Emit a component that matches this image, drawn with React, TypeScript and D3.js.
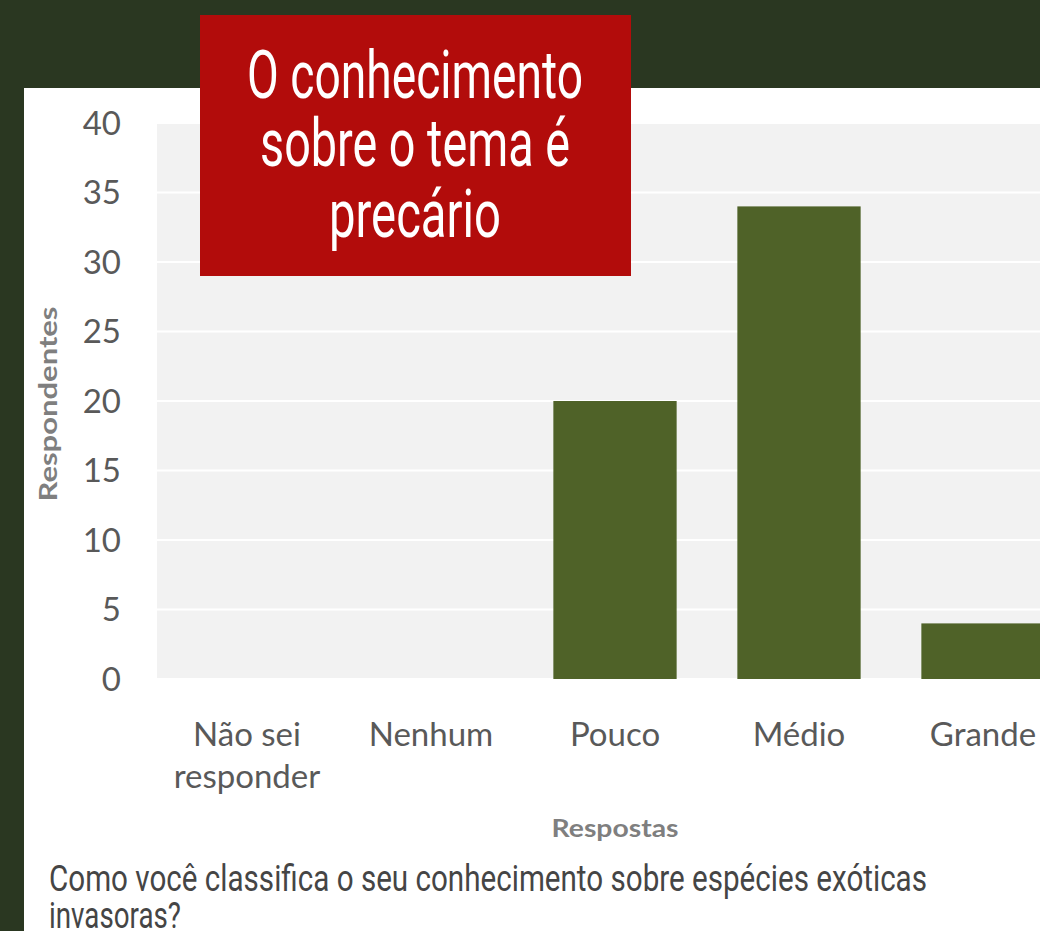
import React from "react";
import * as d3 from "d3";

// data
const categories = ["Não sei responder", "Nenhum", "Pouco", "Médio", "Grande"];
const categoryLines = [["Não sei", "responder"], ["Nenhum"], ["Pouco"], ["Médio"], ["Grande"]];
const respondents = [0, 0, 20, 34, 4];
const yTicks = [0, 5, 10, 15, 20, 25, 30, 35, 40];
const calloutLines = ["O conhecimento", "sobre o tema é", "precário"];
const captionLines = ["Como você classifica o seu conhecimento sobre espécies exóticas", "invasoras?"];

const W = 1040;
const H = 931;
const plot = { left: 155, right: 1075, top: 123, bottom: 679 };

const tickStyle = {
  fontFamily: "Lato, 'Open Sans', sans-serif",
  fontSize: "33px",
  fill: "#595959"
};

function App() {
  const x = d3
    .scaleBand()
    .domain(categories)
    .range([plot.left, plot.right])
    .paddingInner(0.33)
    .paddingOuter(0.165);

  const y = d3.scaleLinear().domain([0, 40]).range([plot.bottom, plot.top]);

  const grid = yTicks.map((t) => (
    <line
      key={`g${t}`}
      x1={157}
      x2={W}
      y1={y(t)}
      y2={y(t)}
      stroke="#ffffff"
      strokeWidth={2}
    />
  ));

  const tickLabels = yTicks.map((t) => (
    <text key={`t${t}`} x={121} y={y(t)} dy="0.36em" textAnchor="end" style={tickStyle}>
      {t}
    </text>
  ));

  const bars = categories.map((c, i) => (
    <rect
      key={`b${i}`}
      x={x(c)}
      y={y(respondents[i])}
      width={x.bandwidth()}
      height={y(0) - y(respondents[i])}
      fill="#4f6228"
    />
  ));

  const catLabels = categories.map((c, i) => (
    <text
      key={`c${i}`}
      x={(x(c) || 0) + x.bandwidth() / 2}
      y={746}
      textAnchor="middle"
      style={tickStyle}
    >
      {categoryLines[i].map((l, j) => (
        <tspan key={j} x={(x(c) || 0) + x.bandwidth() / 2} dy={j === 0 ? 0 : 42}>
          {l}
        </tspan>
      ))}
    </text>
  ));

  const calloutWidths = [336, 310, 172];
  const calloutBase = [98, 166, 237];
  const captionWidths = [878, 132];
  const captionBase = [891, 928];

  return (
    <div style={{ position: "absolute", left: 0, top: 0 }}>
      <svg width={W} height={H} style={{ display: "block" }}>
        <rect x={0} y={0} width={W} height={H} fill="#2a3721" />
        <rect x={24} y={88} width={W - 24} height={H - 88} fill="#ffffff" />
        <rect
          x={157}
          y={plot.top}
          width={W - 157}
          height={plot.bottom - plot.top}
          fill="#f2f2f2"
        />
        {grid}
        {bars}
        {tickLabels}
        {catLabels}

        <text
          transform={`translate(57,${(plot.top + plot.bottom) / 2 + 3}) rotate(-90)`}
          textAnchor="middle"
          textLength={195}
          lengthAdjust="spacingAndGlyphs"
          style={{ fontFamily: "Lato, sans-serif", fontSize: "24px", fontWeight: 700, fill: "#7f7f7f" }}
        >
          Respondentes
        </text>
        <text
          x={615}
          y={837}
          textAnchor="middle"
          textLength={127}
          lengthAdjust="spacingAndGlyphs"
          style={{ fontFamily: "Lato, sans-serif", fontSize: "24px", fontWeight: 700, fill: "#7f7f7f" }}
        >
          Respostas
        </text>

        {/* callout box */}
        <rect x={200} y={15} width={431} height={261} fill="#b20c0b" />
        {calloutLines.map((l, i) => (
          <text
            key={`o${i}`}
            x={415 - calloutWidths[i] / 2}
            y={calloutBase[i]}
            textLength={calloutWidths[i]}
            lengthAdjust="spacingAndGlyphs"
            style={{ fontFamily: "Roboto, sans-serif", fontSize: "66px", fill: "#ffffff" }}
          >
            {l}
          </text>
        ))}

        {captionLines.map((l, i) => (
          <text
            key={`p${i}`}
            x={49}
            y={captionBase[i]}
            textLength={captionWidths[i]}
            lengthAdjust="spacingAndGlyphs"
            style={{ fontFamily: "Roboto, sans-serif", fontSize: "37px", fill: "#454545" }}
          >
            {l}
          </text>
        ))}
      </svg>
    </div>
  );
}

export default App;
